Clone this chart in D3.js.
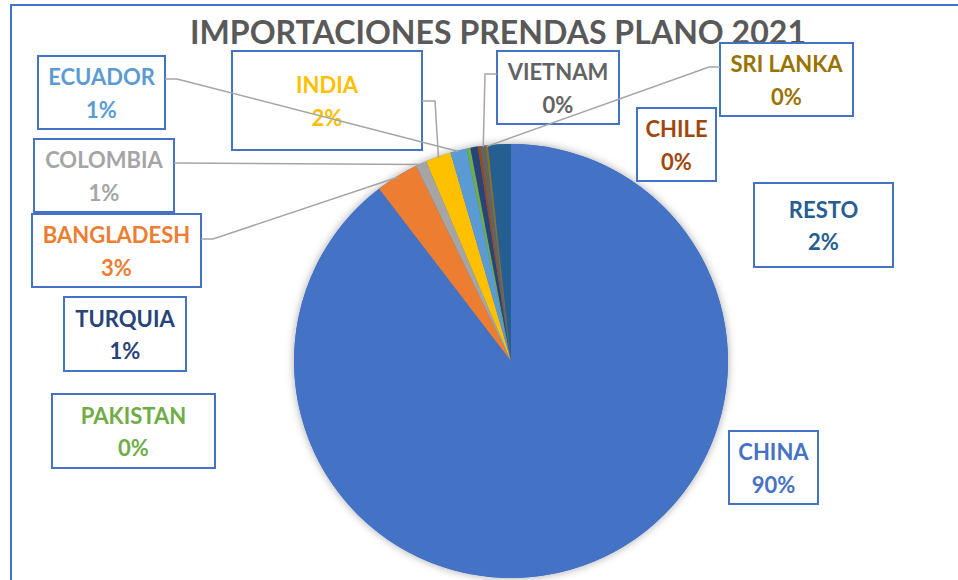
<!DOCTYPE html>
<html><head><meta charset="utf-8">
<script src="https://cdn.jsdelivr.net/npm/d3@7"></script>
<style>html,body{margin:0;padding:0;background:#fff;}svg{display:block;}</style>
</head><body>
<div id="chart"></div>
<script>
const title = "IMPORTACIONES PRENDAS PLANO 2021";
const categories = ["CHINA","BANGLADESH","COLOMBIA","INDIA","ECUADOR","PAKISTAN","TURQUIA","CHILE","VIETNAM","SRI LANKA","RESTO"];
const shares = [89.6, 3.2, 0.8, 1.9, 1.2, 0.3, 0.55, 0.2, 0.4, 0.15, 1.7];
const colors = ["#4472C4","#ED7D31","#A5A5A5","#FFC000","#5B9BD5","#70AD47","#264478","#9E480E","#636363","#997300","#255E91"];
// label boxes: [x, y, w, h]
const labelBoxes = [
  [729,431,89,73],[32,214,169,73],[34,139,140,73],[232,51,190,99],[38,56,127,73],
  [52,394,163,74],[64,297,122,74],[637,108,79,73],[497,51,122,73],[720,43,133,73],[754,183,139,84]
];
// leader line start points on the box side, with elbow length (null = no leader)
const leaders = [null,[201,239,12],[174,163,0],[422,101,13],[165,79,12],null,null,null,[497,74,-12],[720,67,-11],null];

const W=958,H=580, cx=511, cy=361, R=217;
const svg=d3.select("#chart").append("svg").attr("width",W).attr("height",H);
const defs=svg.append("defs");
const f=defs.append("filter").attr("id","sh").attr("x","-20%").attr("y","-20%").attr("width","140%").attr("height","140%");
f.append("feDropShadow").attr("dx",0).attr("dy",0).attr("stdDeviation",4).attr("flood-color","#000").attr("flood-opacity",0.35);

// chart border
svg.append("rect").attr("x",11).attr("y",5).attr("width",1000).attr("height",700)
  .attr("fill","none").attr("stroke","#4472C4").attr("stroke-width",2);

svg.append("text").attr("x",498).attr("y",44).attr("text-anchor","middle")
  .attr("font-family","Lato, 'Open Sans', sans-serif").attr("font-weight","bold").attr("font-size",32)
  .attr("fill","#595959").attr("textLength",616).attr("lengthAdjust","spacingAndGlyphs").text(title);

const data=categories.map((c,i)=>({name:c,value:shares[i],color:colors[i],i}));
const pie=d3.pie().value(d=>d.value).sort(null);
const arcs=pie(data);
const arc=d3.arc().innerRadius(0).outerRadius(R);
const total=d3.sum(shares);
const fmt=d3.format(".0%");

const g=svg.append("g").attr("transform",`translate(${cx},${cy})`);
g.append("circle").attr("r",R).attr("fill","#4472C4").attr("filter","url(#sh)");
g.selectAll("path").data(arcs).join("path").attr("d",arc).attr("fill",d=>d.data.color);

// label boxes
const lg=svg.append("g");
data.forEach((d,i)=>{
  const [x,y,w,h]=labelBoxes[i];
  lg.append("rect").attr("x",x).attr("y",y).attr("width",w).attr("height",h)
    .attr("fill","#fff").attr("stroke","#4472C4").attr("stroke-width",2);
  const t=lg.append("text").attr("text-anchor","middle").attr("font-family","Lato, 'Open Sans', sans-serif")
    .attr("font-weight","bold").attr("font-size",22).attr("fill",d.color);
  const mx=x+w/2, my=y+h/2;
  t.append("tspan").attr("x",mx).attr("y",my-7.5).text(d.name);
  t.append("tspan").attr("x",mx).attr("y",my+25).text(fmt(d.value/total));
});

// leader lines (drawn over the boxes)
const lineG=svg.append("g");
arcs.forEach((a,i)=>{
  const L=leaders[i]; if(!L) return;
  const mid=(a.startAngle+a.endAngle)/2;
  const px=cx+Math.sin(mid)*(R-1), py=cy-Math.cos(mid)*(R-1);
  const pts=[[L[0],L[1]],[L[0]+L[2],L[1]],[px,py]];
  lineG.append("path").attr("d",d3.line()(pts)).attr("fill","none").attr("stroke","#A5A5A5").attr("stroke-width",1.5);
});
</script>
</body></html>
